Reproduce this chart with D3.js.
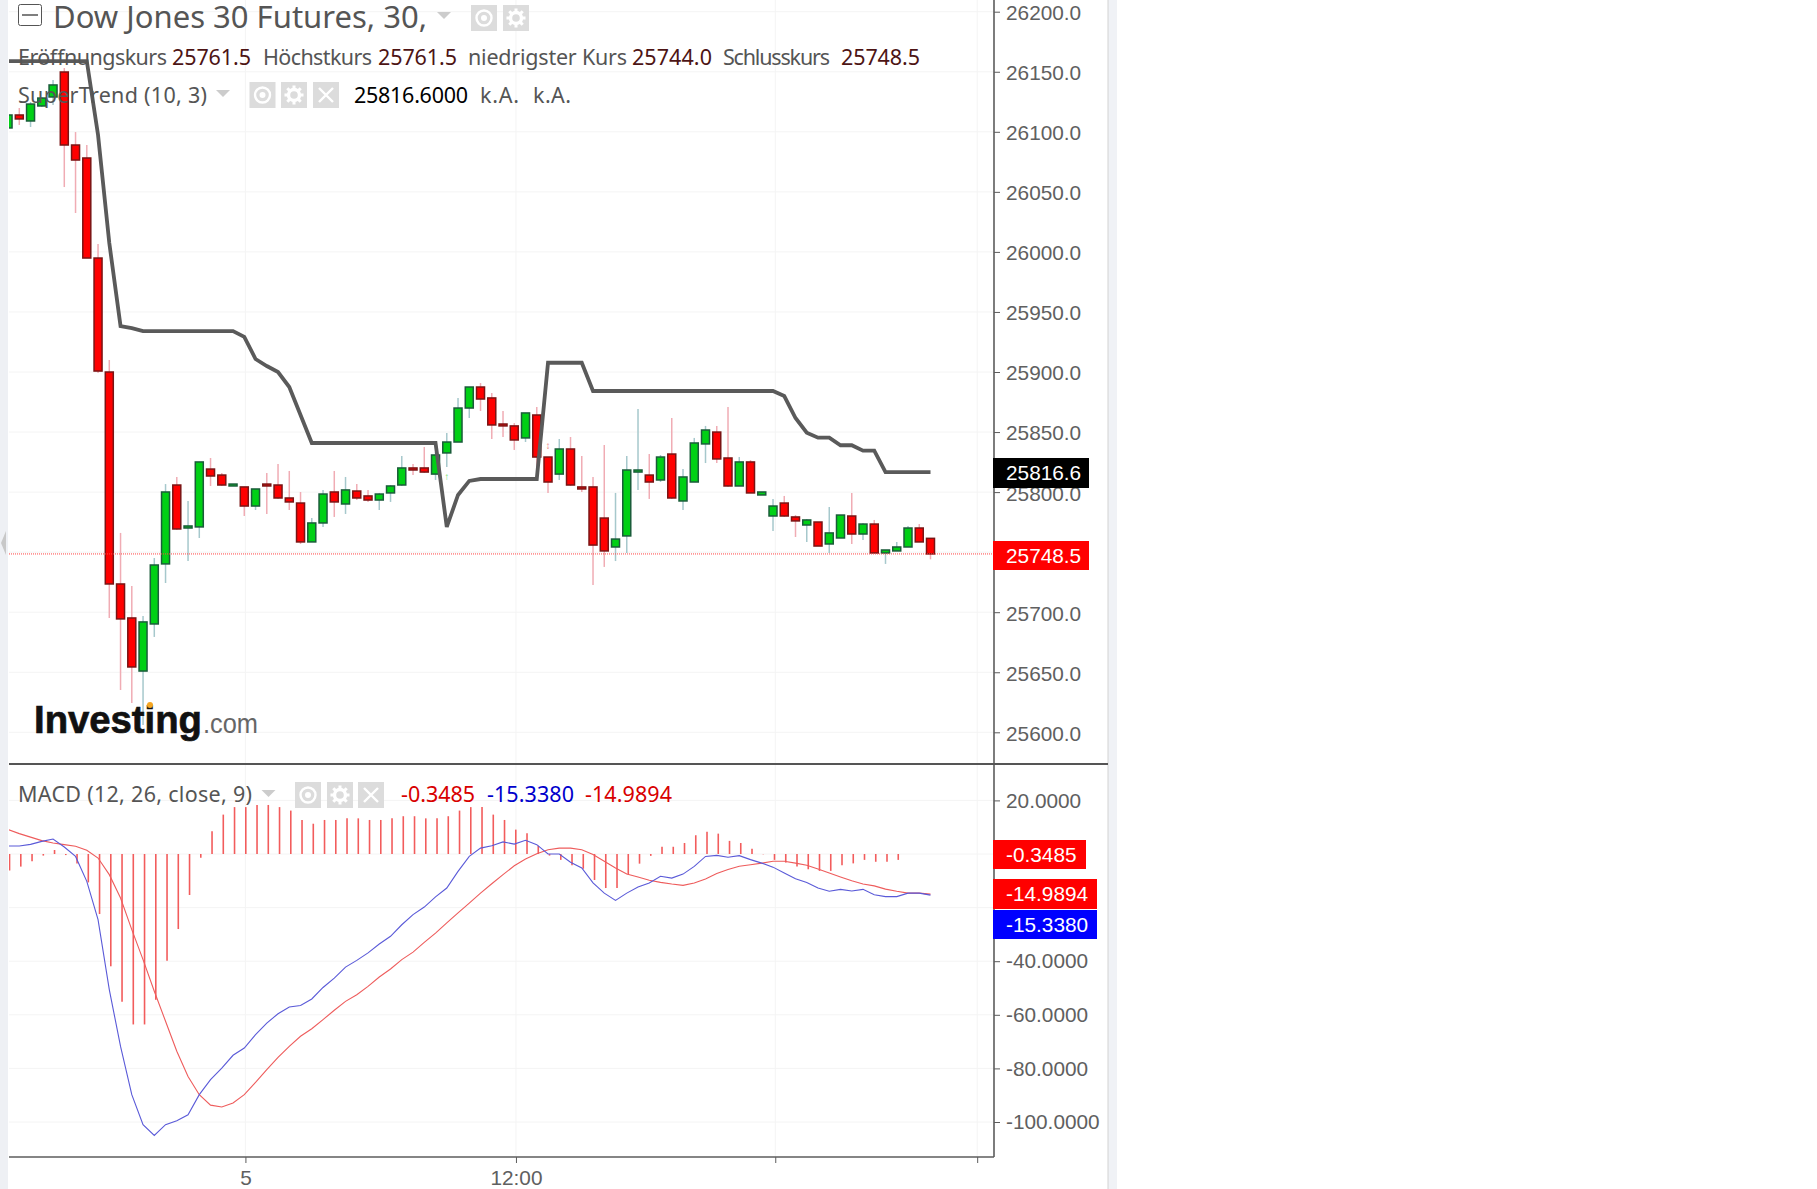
<!DOCTYPE html>
<html>
<head>
<meta charset="utf-8">
<title>Dow Jones 30 Futures</title>
<script src="https://cdn.jsdelivr.net/npm/d3@7"></script>
<style>
  html, body { margin: 0; background: #fff; overflow: hidden; }
  text { font-family: "Noto Sans", sans-serif; }
  .axis text { font-family: "Liberation Sans", Arial, sans-serif; font-size: 20.8px; fill: #606060; }
  .axis line, .axis path { stroke: #5c5c5c; }
</style>
</head>
<body>
<div id="chart"></div>
<script>
// candles, bar 0 is the cut off one at the left edge
const openValues = [26103.2,26114,26109,26121.5,26129,26149.8,26089,26078.2,25994.9,25900,25723.5,25695.2,25651,25690.2,25740.2,25805.9,25770.1,25771,25819.2,25814.2,25805.1,25804.3,25788.4,25806.7,25805.9,25795.1,25790.9,25758.5,25774.3,25800.1,25790.1,25800.9,25796.8,25793.4,25799.3,25805.9,25820.1,25820.1,25815,25832.6,25841.7,25870,25887.5,25878.4,25856.7,25855.1,25845.1,25864.2,25829.2,25815,25835.9,25804.3,25804.3,25778.4,25754.3,25763.5,25816.7,25814.2,25810.1,25831.7,25792.6,25808.4,25840.1,25850,25828.4,25805.1,25825.1,25797.6,25780.1,25790.9,25779.3,25772.6,25775.1,25756.8,25761.8,25780.1,25765.1,25773.4,25749.3,25751,25754.3,25770.1,25761.5];
const highValues = [26114,26119.8,26124.8,26129,26143.1,26153.1,26099.8,26089,26006.6,25910,25766,25721.8,25696.9,25745.1,25806.7,25812.6,25792.6,25825.1,25828.4,25815.9,25806.7,25804.3,25802.6,25815.9,25823.4,25817.6,25800.1,25778.4,25801.8,25817.6,25812.6,25806.7,25801.8,25799.3,25805.9,25830.1,25823.4,25837.6,25833.4,25849.2,25878.4,25887.5,25890.8,25882.5,25867.5,25857.5,25865.9,25870.9,25829.2,25844.2,25845.9,25830.1,25812.6,25839.2,25799.3,25830.1,25869.2,25831.7,25830.9,25861.7,25819.2,25845.1,25855.1,25855.1,25870.9,25829.2,25826.7,25800.1,25794.3,25796.8,25780.9,25777.6,25775.1,25787.6,25780.9,25799.3,25774.3,25776.8,25751.8,25758.5,25771.8,25773.4,25761.5];
const lowValues = [26103.2,26105.7,26104,26120.7,26122.3,26054,26032.4,25994.9,25899.2,25695.2,25635.2,25624.4,25606.1,25679.4,25724.3,25768.5,25742.6,25761.8,25805.1,25805.1,25805.1,25780.1,25785.1,25781.8,25794.3,25785.1,25756.8,25758.5,25771,25779.3,25781.8,25793.4,25791.8,25785.1,25791.8,25805.1,25814.2,25815.9,25810.1,25820.9,25841.7,25861.7,25867.5,25844.2,25845.9,25835.1,25841.7,25818.4,25799.3,25810.1,25805.1,25800.1,25722.7,25737.7,25742.6,25749.3,25801.8,25794.3,25808.4,25794.3,25785.1,25808.4,25824.2,25824.2,25804.3,25805.1,25799.3,25797.6,25767.6,25779.3,25762.6,25758.5,25755.1,25749.3,25761.8,25756.8,25760.1,25749.3,25740.2,25751,25754.3,25758.5,25744];
const closeValues = [26114,26110.7,26123.1,26128.1,26139,26089,26076.5,25994.9,25900.8,25723.5,25694.4,25654.4,25691.9,25739.3,25800.1,25769.3,25771.8,25825.1,25813.4,25805.9,25806.7,25788.4,25802.6,25805.1,25795.1,25791.8,25758.5,25774.3,25798.4,25791.8,25801.8,25795.1,25793.4,25798.4,25805.1,25820.1,25818.4,25816.7,25830.9,25841.7,25870,25887.5,25877.5,25855.9,25855.1,25843.4,25865.9,25829.2,25808.4,25835.9,25805.9,25802.6,25755.9,25751,25760.9,25818.4,25818.4,25808.4,25829.2,25795.1,25812.6,25840.9,25851.7,25827.6,25805.1,25825.1,25799.3,25800.1,25788.4,25780.1,25776,25776.8,25755.1,25766,25780.9,25765.1,25773.4,25749.3,25751.8,25754.3,25770.1,25758.5,25748.5];

const superTrend = [26158.9,26158.9,26158.9,26158.9,26158.9,26158.9,26158.9,26158.9,26097.3,26007.4,25938.3,25936.6,25934.1,25934.1,25934.1,25934.1,25934.1,25934.1,25934.1,25934.1,25934.1,25929.2,25910.8,25905,25900,25887.5,25864.2,25840.9,25840.9,25840.9,25840.9,25840.9,25840.9,25840.9,25840.9,25840.9,25840.9,25840.9,25840.9,25771,25797.6,25809.3,25810.9,25810.9,25810.9,25810.9,25810.9,25810.9,25907.7,25907.7,25907.7,25907.7,25884.2,25884.2,25884.2,25884.2,25884.2,25884.2,25884.2,25884.2,25884.2,25884.2,25884.2,25884.2,25884.2,25884.2,25884.2,25884.2,25884.2,25880,25861.7,25849.5,25845.3,25845.3,25839,25839,25834.5,25834.5,25816.6,25816.6,25816.6,25816.6,25816.6];

const macdLine = [3,3,3.6,4.7,5.6,2.6,-0.9,-10.2,-24.5,-50.6,-71.8,-89.8,-101,-105,-101,-99.5,-97.3,-89.8,-84.2,-79.9,-75.1,-72.4,-67.4,-63.1,-59.6,-57.1,-56.5,-54.1,-49.8,-46.3,-42.2,-39.7,-36.9,-33.6,-30.7,-26.4,-22.6,-19.8,-16,-12.7,-6.5,-0.9,2.2,3.1,4.5,3.7,5.1,3.5,0,0,-3.1,-5.2,-10.8,-14.6,-17.3,-14.6,-12.3,-10.8,-8.3,-9,-7.5,-4.6,-0.9,-0.5,-1.2,-0.6,-2.1,-3.4,-4.9,-7.1,-9.2,-10.6,-12.7,-13.9,-13.2,-13.8,-13.2,-15.2,-15.9,-15.9,-14.6,-14.6,-15.338];
const signalLine = [9.1,7.6,6.3,5,4.1,3.5,2.9,1.4,-1.5,-7.7,-16.4,-28.2,-39.4,-51.2,-62.4,-73.6,-83,-89.8,-93.7,-94.4,-92.9,-89.8,-85.2,-80.5,-75.9,-71.8,-68,-65.2,-61.8,-58.3,-55,-52.5,-49.4,-45.9,-42.9,-39.4,-36.6,-33,-29.5,-25.7,-22,-18.3,-14.6,-11.1,-7.7,-4.4,-1.9,0.1,1.6,2.2,2.2,1.6,-0.2,-2.7,-5.2,-7.5,-8.6,-9.8,-10.6,-11.2,-11.7,-10.8,-9.3,-7.3,-5.8,-4.6,-4,-3.4,-2.7,-2.7,-3.4,-4.2,-5.6,-7.1,-8.6,-10,-11.2,-11.9,-13.1,-13.9,-14.6,-14.6,-14.9894];
const histValues = [-6.2,-4.7,-2.7,-0.6,1.5,-0.4,-3.5,-10.6,-22.4,-41.9,-55.1,-63.6,-63.6,-54.4,-39.8,-28,-15.3,-1.4,8.5,14.7,17.5,17.5,18.3,18.3,17.5,16.2,12.7,11.3,12.7,12.7,13.3,13.3,12.7,12.7,13.3,14.1,14.1,13.3,13.3,14.1,16.2,17.5,17.5,14.7,12.7,9.1,7.7,3.1,-0.6,-2.2,-4.2,-5.5,-9.7,-12.7,-12.7,-7.6,-3.6,-0.7,2.7,2.7,4.1,7,8.3,7.6,4.9,4.1,2,-0.1,-2.2,-3.2,-4.7,-5.7,-6.3,-6.3,-4.2,-3.5,-2.2,-2.9,-2.9,-2.2];

const priceTicks = [26200,26150,26100,26050,26000,25950,25900,25850,25800,25750,25700,25650,25600];
const macdTicks = [20,0,-20,-40,-60,-80,-100];
const macdHiddenLabels = [0,-20]; // covered by the value boxes in the picture
const timeTickBars = [21.1,45.15,68.2,86.15];
const timeTickLabels = ["5","12:00","",""];

const lastClose = 25748.5, lastTrend = 25816.6;
const macdLabels = [
  {value: -0.3485, top: 840, h: 29, w: 93, fill: "#ff0000"},
  {value: -14.9894, top: 879, h: 30, w: 104, fill: "#ff0000"},
  {value: -15.3380, top: 910, h: 29, w: 104, fill: "#0000ff"}
];

const width = 1817, height = 1189;
const plotLeft = 9, axisX = 994, panelRight = 1108, sepY = 764, bottomY = 1157;

const svg = d3.select("#chart").append("svg").attr("width", width).attr("height", height).style("display", "block");

const x = d3.scaleLinear().domain([0, 82]).range([8.05, 930.5]);
const yPrice = d3.scaleLinear().domain([25600, 26200]).range([732.3, 11.7]);
const yMacd = d3.scaleLinear().domain([-100, 20]).range([1122, 800.4]);

// side bands
svg.append("rect").attr("x", 0).attr("y", 0).attr("width", 8).attr("height", height).attr("fill", "#eef0f4");
svg.append("rect").attr("x", panelRight).attr("y", 0).attr("width", 9).attr("height", height).attr("fill", "#f0f2f6");
svg.append("line").attr("x1", panelRight).attr("x2", panelRight).attr("y1", 0).attr("y2", height).attr("stroke", "#d2d2d2");
svg.append("path").attr("d", "M6,531 L1,543 L6,555 Z").attr("fill", "#c8c8c8");

svg.append("defs").append("clipPath").attr("id", "plot").append("rect")
  .attr("x", plotLeft).attr("y", 0).attr("width", axisX - plotLeft).attr("height", bottomY);

// grid
const grid = svg.append("g").attr("stroke", "#f4f4f4");
priceTicks.forEach(d => grid.append("line").attr("x1", plotLeft).attr("x2", axisX).attr("y1", yPrice(d)).attr("y2", yPrice(d)));
macdTicks.forEach(d => grid.append("line").attr("x1", plotLeft).attr("x2", axisX).attr("y1", yMacd(d)).attr("y2", yMacd(d)));
timeTickBars.forEach(d => grid.append("line").attr("x1", x(d)).attr("x2", x(d)).attr("y1", 0).attr("y2", bottomY));

// candles
const plot = svg.append("g").attr("clip-path", "url(#plot)");
const bars = plot.selectAll("g.bar").data(openValues).join("g").attr("class", "bar");
bars.append("line")
  .attr("x1", (d, i) => x(i)).attr("x2", (d, i) => x(i))
  .attr("y1", (d, i) => yPrice(highValues[i])).attr("y2", (d, i) => yPrice(lowValues[i]))
  .attr("stroke", (d, i) => closeValues[i] >= d ? "#a6c8cc" : "#f0acb4").attr("stroke-width", 1.5);
bars.append("rect")
  .attr("x", (d, i) => x(i) - 4).attr("width", 8)
  .attr("y", (d, i) => yPrice(Math.max(d, closeValues[i])))
  .attr("height", (d, i) => Math.abs(yPrice(d) - yPrice(closeValues[i])))
  .attr("fill", (d, i) => closeValues[i] >= d ? "#00d015" : "#ff0000")
  .attr("stroke", (d, i) => closeValues[i] >= d ? "#1a5c3a" : "#7a1414").attr("stroke-width", 1.5);

// last price line
svg.append("line").attr("x1", plotLeft).attr("x2", axisX).attr("y1", yPrice(lastClose)).attr("y2", yPrice(lastClose))
  .attr("stroke", "#f44").attr("stroke-dasharray", "1,1");

// supertrend with its two little switch arrows
const trendLine = d3.line().x((d, i) => x(i)).y(d => yPrice(d));
plot.append("path").datum(superTrend).attr("d", trendLine).attr("fill", "none").attr("stroke", "#5a5a5a").attr("stroke-width", 3.8);
const flipBars = [39, 48], flipPrices = [25812.8, 25839.2], flipMarks = ["\u2191", "\u2195"], flipColors = ["#66e066", "#f08080"];
flipBars.forEach((b, k) => {
  svg.append("text").attr("x", x(b)).attr("y", yPrice(flipPrices[k])).attr("dy", "0.35em").attr("text-anchor", "middle")
    .attr("fill", flipColors[k]).style("font-size", "10px").text(flipMarks[k]);
});

// macd panel
plot.selectAll("line.hist").data(histValues).join("line").attr("class", "hist")
  .attr("x1", (d, i) => x(i) + 1.5).attr("x2", (d, i) => x(i) + 1.5)
  .attr("y1", yMacd(0)).attr("y2", d => yMacd(d))
  .attr("stroke", "#f25c5c").attr("stroke-width", 1.6);
const macdPath = d3.line().x((d, i) => x(i)).y(d => yMacd(d));
plot.append("path").datum(signalLine).attr("d", macdPath).attr("fill", "none").attr("stroke", "#ee5c5c").attr("stroke-width", 1.1);
plot.append("path").datum(macdLine).attr("d", macdPath).attr("fill", "none").attr("stroke", "#5a5ad8").attr("stroke-width", 1.1);

// axes
const fmt = n => d3.format(".4f")(n).replace("\u2212", "-");
const priceAxis = svg.append("g").attr("class", "axis").attr("transform", `translate(${axisX},0)`)
  .call(d3.axisRight(yPrice).tickValues(priceTicks).tickSize(6).tickPadding(6).tickFormat(d3.format(".1f")));
priceAxis.selectAll("text").attr("dy", "0.38em");
svg.append("g").attr("class", "axis").attr("transform", `translate(${axisX},0)`)
  .call(d3.axisRight(yMacd).tickValues(macdTicks).tickSize(6).tickPadding(6)
    .tickFormat(d => macdHiddenLabels.includes(d) ? "" : fmt(d)));
svg.append("g").attr("class", "axis").attr("transform", `translate(0,${bottomY})`)
  .call(d3.axisBottom(x).tickValues(timeTickBars).tickSize(6).tickPadding(7).tickFormat((d, i) => timeTickLabels[i]));
svg.selectAll(".axis path.domain").attr("display", "none");

svg.append("line").attr("x1", axisX).attr("x2", axisX).attr("y1", 0).attr("y2", bottomY).attr("stroke", "#5c5c5c").attr("stroke-width", 1.6);
svg.append("line").attr("x1", plotLeft).attr("x2", panelRight).attr("y1", sepY).attr("y2", sepY).attr("stroke", "#555").attr("stroke-width", 1.8);
svg.append("line").attr("x1", plotLeft).attr("x2", axisX).attr("y1", bottomY).attr("y2", bottomY).attr("stroke", "#5c5c5c").attr("stroke-width", 1.6);

// value boxes on the axis
function valueBox(top, h, w, fill, str) {
  svg.append("rect").attr("x", axisX - 1).attr("y", top).attr("width", w).attr("height", h).attr("fill", fill);
  svg.append("text").attr("x", axisX + 12).attr("y", top + h / 2).attr("dy", "0.35em")
    .style("font-family", "'Liberation Sans', Arial, sans-serif").style("font-size", "20.8px").attr("fill", "#fff").text(str);
}
valueBox(458, 30, 96, "#000", lastTrend.toFixed(1));
valueBox(541, 29, 96, "#ff0000", lastClose.toFixed(1));
macdLabels.forEach(d => valueBox(d.top, d.h, d.w, d.fill, fmt(d.value)));

// legend text, squeezed or stretched to the width it has in the picture
function label(x0, x1, py, str, fill, size) {
  svg.append("text").attr("x", x0).attr("y", py).attr("dy", "0.35em").attr("fill", fill)
    .attr("textLength", x1 - x0).attr("lengthAdjust", "spacing")
    .style("font-size", (size || 21.5) + "px").text(str);
}
const grey = "#555", dark = "#4d1414";
label(53, 427, 17, "Dow Jones 30 Futures, 30,", grey, 31);
label(18, 167, 57, "Eröffnungskurs", grey);
label(172, 251, 57, "25761.5", dark);
label(263, 372, 57, "Höchstkurs", grey);
label(378, 457, 57, "25761.5", dark);
label(468, 627, 57, "niedrigster Kurs", grey);
label(632, 712, 57, "25744.0", dark);
label(723, 830, 57, "Schlusskurs", grey);
label(841, 920, 57, "25748.5", dark);
label(18, 207, 95, "SuperTrend (10, 3)", grey);
label(354, 468, 95, "25816.6000", "#000");
label(480, 519, 95, "k.A.", grey);
label(533, 571, 95, "k.A.", grey);
label(18, 252, 794, "MACD (12, 26, close, 9)", grey);
label(401, 475, 794, "-0.3485", "#d80000");
label(487, 574, 794, "-15.3380", "#0000cc");
label(585, 672, 794, "-14.9894", "#d80000");

// collapse box and little icon buttons
svg.append("rect").attr("x", 18.5).attr("y", 4.5).attr("width", 23).attr("height", 21).attr("rx", 2).attr("fill", "#fff").attr("stroke", "#555");
svg.append("line").attr("x1", 22).attr("x2", 38).attr("y1", 15).attr("y2", 15).attr("stroke", "#555").attr("stroke-width", 1.5);

function caret(cx, cy) {
  svg.append("path").attr("d", `M${cx - 7},${cy - 3} L${cx + 7},${cy - 3} L${cx},${cy + 4} Z`).attr("fill", "#ccc");
}
function iconBox(bx, by, kind) {
  const g = svg.append("g").attr("transform", `translate(${bx},${by})`);
  g.append("rect").attr("width", 26).attr("height", 26).attr("fill", "#dcdcdc");
  if (kind === "eye") {
    g.append("circle").attr("cx", 13).attr("cy", 13).attr("r", 7.5).attr("fill", "none").attr("stroke", "#fff").attr("stroke-width", 2.4);
    g.append("circle").attr("cx", 13).attr("cy", 13).attr("r", 3).attr("fill", "#fff");
  } else if (kind === "gear") {
    g.append("circle").attr("cx", 13).attr("cy", 13).attr("r", 5.5).attr("fill", "none").attr("stroke", "#fff").attr("stroke-width", 3.4);
    d3.range(8).forEach(k => g.append("rect").attr("x", 11.5).attr("y", 3.5).attr("width", 3).attr("height", 4).attr("fill", "#fff")
      .attr("transform", `rotate(${k * 45},13,13)`));
  } else {
    g.append("path").attr("d", "M6,6 L20,20 M20,6 L6,20").attr("stroke", "#fff").attr("stroke-width", 2.4);
  }
}
caret(444, 15); iconBox(471, 5, "eye"); iconBox(503, 5, "gear");
caret(223, 93); iconBox(249.5, 82, "eye"); iconBox(281, 82, "gear"); iconBox(313, 82, "x");
caret(268.5, 793); iconBox(295, 782, "eye"); iconBox(327, 782, "gear"); iconBox(358, 782, "x");

// logo
svg.append("text").attr("x", 34).attr("y", 733).attr("fill", "#111").attr("stroke", "#111").attr("stroke-width", 0.7)
  .attr("textLength", 168).attr("lengthAdjust", "spacingAndGlyphs")
  .style("font-family", "'Liberation Sans', Arial, sans-serif").style("font-weight", "bold").style("font-size", "39px").text("Investing");
svg.append("text").attr("x", 203).attr("y", 733).attr("fill", "#666")
  .attr("textLength", 55).attr("lengthAdjust", "spacingAndGlyphs")
  .style("font-family", "'Liberation Sans', Arial, sans-serif").style("font-size", "28px").text(".com");
svg.append("circle").attr("cx", 150).attr("cy", 705).attr("r", 3).attr("fill", "#f5a623");
</script>
</body>
</html>
